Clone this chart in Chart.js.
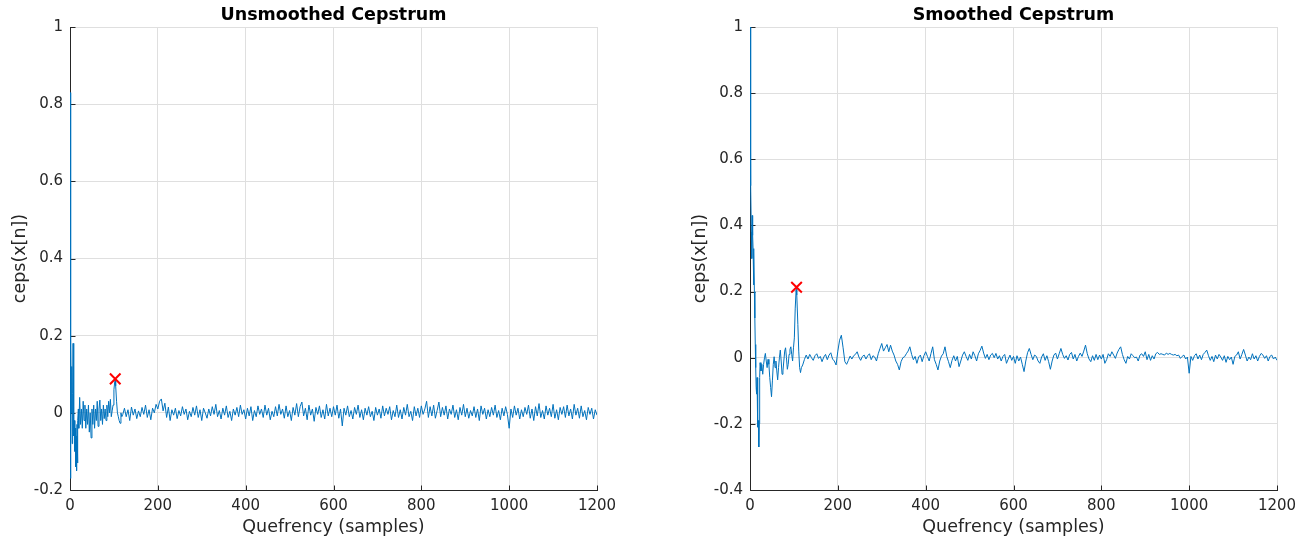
<!DOCTYPE html>
<html>
<head>
<meta charset="utf-8">
<script src="https://cdn.jsdelivr.net/npm/chart.js@4/dist/chart.umd.min.js"></script>
<style>
  body { margin: 0; background: #fff; }
  #leftBox { position: absolute; left: 0; top: 0; }
  #rightBox { position: absolute; left: 680px; top: 0; }
</style>
</head>
<body>
<div id="leftBox"><canvas id="unsmoothedChart" width="680" height="540"></canvas></div>
<div id="rightBox"><canvas id="smoothedChart" width="627" height="540"></canvas></div>
<script>
// quefrency ticks
var xTicks = [0, 200, 400, 600, 800, 1000, 1200];
var tailStart = 120, tailStep = 4;

// unsmoothed cepstrum: detailed start, then every 4th sample
var unsHeadN = [0, 1, 2, 3, 4, 5, 6, 7, 8, 9, 10, 11, 12, 13, 14, 15, 16, 17, 18, 19,
  20, 22, 24, 26, 28, 30, 32, 34, 36, 38, 40, 42, 44, 46, 48, 50, 52, 54, 56, 58,
  60, 62, 64, 66, 68, 70, 72, 74, 76, 78, 80, 82, 84, 86, 88, 90, 92, 94, 96, 98,
  100, 102, 103, 104, 106, 108, 110, 112, 114, 116, 118];
var unsHeadV = [0.83, -0.17, 0.19, 0.0, 0.12, -0.08, 0.05, 0.18, 0.1, -0.06, -0.02, -0.1, -0.04, -0.14, -0.06, -0.15, -0.03, -0.13, -0.02, 0.01,
  -0.04, 0.04, -0.03, 0.01, -0.04, 0.03, -0.02, 0.02, -0.04, 0.01, -0.03, 0.02, -0.05, 0.0, -0.065, 0.01, -0.03, 0.02, -0.04, 0.01,
  -0.02, 0.03, -0.035, 0.01, 0.033, -0.02, 0.01, -0.03, 0.02, -0.015, 0.01, -0.02, 0.02, -0.01, 0.03, 0.0, 0.035, -0.01, 0.005, 0.02,
  0.06, 0.082, 0.088, 0.07, 0.03, 0.0, -0.01, -0.02, -0.027, 0.0, -0.01];
var unsTail = [
  -0.005, 0.012, -0.01, 0.008, -0.02, 0.015, -0.006, 0.01, -0.015, 0.005,
  -0.01, 0.014, -0.004, 0.02, -0.012, 0.008, -0.018, 0.012, 0.0, 0.022,
  0.01, 0.03, 0.036, 0.005, 0.025, -0.012, 0.015, -0.02, 0.008, -0.006,
  0.012, -0.015, 0.006, -0.008, 0.016, -0.004, 0.01, -0.018, 0.004, -0.01,
  0.014, -0.006, 0.018, -0.012, 0.008, -0.02, 0.012, 0.0, -0.014, 0.01,
  -0.008, 0.016, -0.004, 0.022, -0.01, 0.006, -0.016, 0.012, -0.006, 0.018,
  -0.012, 0.004, -0.02, 0.01, -0.006, 0.014, -0.01, 0.02, -0.004, 0.008,
  -0.016, 0.012, -0.008, 0.016, -0.02, 0.006, -0.01, 0.018, -0.004, 0.01,
  -0.012, 0.02, -0.006, 0.012, -0.018, 0.004, -0.01, 0.016, -0.008, 0.022,
  -0.004, 0.01, -0.014, 0.018, -0.01, 0.006, -0.02, 0.014, -0.006, 0.024,
  -0.01, 0.016, 0.028, -0.008, 0.012, -0.018, 0.02, -0.006, 0.01, -0.022,
  0.014, -0.004, 0.018, -0.012, 0.008, -0.016, 0.022, -0.008, 0.012, -0.01,
  0.016, -0.006, 0.02, -0.014, 0.01, -0.034, 0.012, -0.006, 0.018, -0.01,
  0.006, -0.016, 0.014, -0.004, 0.02, -0.012, 0.008, -0.018, 0.012, -0.006,
  0.016, -0.01, 0.004, -0.02, 0.014, -0.006, 0.01, -0.014, 0.018, -0.008,
  0.012, -0.004, 0.016, -0.018, 0.006, -0.01, 0.02, -0.012, 0.008, -0.016,
  0.014, -0.006, 0.022, -0.01, 0.004, -0.02, 0.016, -0.008, 0.012, -0.012,
  0.018, -0.004, 0.01, 0.03, -0.012, 0.016, -0.008, 0.02, -0.014, 0.006,
  0.028, -0.01, 0.014, -0.006, 0.018, -0.016, 0.01, -0.004, 0.02, -0.012,
  0.008, -0.018, 0.014, -0.006, 0.022, -0.01, 0.012, -0.014, 0.006, -0.008,
  0.016, -0.012, 0.01, -0.02, 0.018, -0.004, 0.012, -0.016, 0.008, -0.01,
  0.014, -0.006, 0.02, -0.012, 0.006, -0.018, 0.012, -0.008, 0.016, -0.004,
  -0.04, 0.01, -0.012, 0.018, -0.006, 0.012, -0.016, 0.008, -0.01, 0.014,
  -0.004, 0.02, -0.014, 0.01, -0.02, 0.016, -0.008, 0.024, -0.012, 0.006,
  -0.016, 0.018, -0.006, 0.012, -0.01, 0.022, -0.014, 0.008, -0.018, 0.014,
  -0.004, 0.016, -0.012, 0.02, -0.008, 0.01, -0.016, 0.022, -0.006, 0.012,
  -0.014, 0.018, -0.01, 0.006, -0.018, 0.014, -0.004, 0.012, -0.016, 0.008,
  -0.006];
var unsPeak = [103, 0.088];

// smoothed cepstrum
var smHeadN = [0, 1, 2, 3, 4, 5, 6, 7, 8, 9, 10, 11, 12, 13, 14, 15, 16, 17, 18, 19,
  20, 21, 22, 23, 25, 27, 29, 31, 33, 35, 37, 39, 41, 43, 45, 47, 49, 51, 53, 55,
  57, 59, 61, 63, 65, 67, 69, 71, 73, 75, 77, 79, 81, 83, 85, 87, 89, 91, 93, 95,
  97, 99, 101, 103, 105, 106, 107, 109, 111, 113, 115, 117];
var smHeadV = [1.0, 0.72, 0.52, 0.38, 0.3, 0.43, 0.37, 0.33, 0.22, 0.32, 0.2, 0.12, 0.04, -0.03, -0.09, -0.11, -0.06, -0.2, -0.21, -0.19,
  -0.27, -0.2, -0.06, -0.015, -0.04, -0.02, -0.05, -0.02, 0.0, 0.013, -0.01, -0.03, -0.005, -0.02, -0.06, -0.09, -0.118, -0.07, -0.02, 0.003,
  -0.03, -0.01, -0.04, -0.067, -0.03, 0.0, 0.023, -0.01, -0.05, -0.04, -0.01, 0.02, 0.03, 0.0, -0.035, -0.02, 0.01, 0.025, 0.033, 0.01,
  -0.01, 0.03, 0.06, 0.15, 0.205, 0.213, 0.19, 0.1, 0.02, -0.03, -0.045, -0.03];
var smTail = [
  -0.022, -0.005, 0.008, -0.004, 0.01, 0.0, -0.008, 0.006, 0.012, -0.002,
  0.004, -0.012, 0.002, 0.01, -0.006, 0.008, 0.015, -0.004, -0.01, -0.022,
  0.02, 0.053, 0.068, 0.03, -0.012, -0.02, -0.008, 0.005, -0.004, 0.006,
  0.01, 0.018, 0.002, -0.008, 0.004, 0.008, -0.004, 0.006, 0.012, -0.006,
  0.006, 0.002, -0.01, 0.012, 0.028, 0.043, 0.02, 0.03, 0.04, 0.018,
  0.038, 0.02, 0.008, -0.01, -0.02, -0.037, -0.012, 0.0, 0.003, 0.012,
  0.02, 0.033, 0.01, -0.006, 0.004, -0.017, 0.002, 0.008, -0.012, 0.006,
  0.018, 0.004, -0.01, 0.012, 0.033, -0.006, -0.02, -0.037, -0.01, 0.005,
  0.012, 0.033, 0.004, -0.012, -0.03, -0.008, 0.006, -0.01, 0.004, -0.027,
  -0.01, 0.008, 0.018, 0.004, -0.008, 0.01, -0.004, 0.018, 0.006, -0.01,
  0.012, 0.022, 0.035, 0.014, -0.002, 0.01, -0.006, 0.008, 0.013, 0.0,
  0.013, -0.004, 0.006, -0.01, 0.004, 0.01, -0.017, -0.004, 0.008, -0.008,
  0.004, -0.017, 0.006, -0.01, 0.002, -0.02, -0.042, -0.01, 0.015, 0.028,
  0.01, -0.006, 0.008, 0.004, -0.01, -0.017, 0.002, 0.012, -0.008, 0.006,
  -0.012, -0.035, -0.01, 0.008, 0.014, -0.004, 0.012, 0.028, 0.01, -0.002,
  0.006, -0.007, 0.01, 0.016, -0.004, 0.01, -0.01, 0.004, 0.014, 0.004,
  0.02, 0.038, 0.012, -0.004, -0.012, 0.006, -0.008, 0.01, -0.006, 0.008,
  -0.004, 0.01, -0.017, -0.006, 0.012, 0.004, 0.018, 0.008, -0.002, 0.014,
  0.025, 0.033, 0.01, -0.006, -0.017, 0.004, -0.004, 0.012, 0.006, 0.0,
  0.002, -0.01, 0.008, 0.012, 0.004, 0.018, -0.006, 0.01, -0.008, 0.006,
  -0.004, 0.012, 0.016, 0.01, 0.012, 0.01, 0.008, 0.014, 0.01, 0.013,
  0.01, 0.008, 0.01, 0.006, 0.008, -0.002, 0.004, 0.008, -0.004, 0.002,
  -0.047, 0.004, -0.008, 0.006, 0.012, -0.004, 0.008, -0.006, 0.01, 0.016,
  0.023, 0.006, -0.008, 0.004, -0.012, 0.008, -0.004, 0.01, 0.002, -0.008,
  0.006, -0.014, 0.004, -0.006, 0.002, -0.02, 0.004, 0.008, 0.018, -0.004,
  0.01, 0.025, 0.008, -0.01, 0.002, -0.006, 0.012, -0.004, 0.006, -0.01,
  0.004, 0.013, 0.008, -0.002, 0.006, -0.01, 0.004, 0.008, -0.004, 0.002,
  -0.008];
var smPeak = [106, 0.213];

function toPoints(headN, headV, tail) {
  var pts = headN.map(function (n, i) { return {x: n, y: headV[i]}; });
  tail.forEach(function (v, i) { pts.push({x: tailStart + i * tailStep, y: v}); });
  return pts;
}

var axisColor = '#262626';
var gridColor = '#dfdfdf';
var fontFam = '"DejaVu Sans", sans-serif';

// MATLAB style axes: dark left/bottom line with short inward ticks
var matlabAxes = {
  id: 'matlabAxes',
  beforeDatasetsDraw: function (chart) {
    var ctx = chart.ctx, a = chart.chartArea, x = chart.scales.x, y = chart.scales.y;
    var left = Math.round(a.left) + 0.5, bottom = Math.round(a.bottom) + 0.5;
    ctx.save();
    ctx.strokeStyle = axisColor;
    ctx.lineWidth = 1;
    ctx.beginPath();
    ctx.moveTo(left, Math.round(a.top));
    ctx.lineTo(left, bottom);
    ctx.lineTo(Math.round(a.right) + 1, bottom);
    x.ticks.forEach(function (t) {
      var px = Math.round(x.getPixelForValue(t.value)) + 0.5;
      ctx.moveTo(px, bottom);
      ctx.lineTo(px, bottom - 5);
    });
    y.ticks.forEach(function (t) {
      var py = Math.round(y.getPixelForValue(t.value)) + 0.5;
      ctx.moveTo(left, py);
      ctx.lineTo(left + 5, py);
    });
    ctx.stroke();
    ctx.restore();
  }
};

function makeChart(id, title, pts, peak, yMin, padRight) {
  return new Chart(id, {
    type: 'line',
    data: {
      datasets: [{
        data: pts,
        borderColor: '#0072BD',
        borderWidth: 1,
        pointRadius: 0,
        tension: 0,
        order: 2
      }, {
        type: 'scatter',
        data: [{x: peak[0], y: peak[1]}],
        pointStyle: 'crossRot',
        pointRadius: 7.5,
        borderColor: '#ff0000',
        borderWidth: 2,
        order: 1
      }]
    },
    options: {
      responsive: false,
      animation: false,
      layout: { padding: { left: 0, right: padRight, top: 0, bottom: 0 } },
      plugins: {
        legend: { display: false },
        tooltip: { enabled: false },
        title: {
          display: true,
          text: title,
          fullSize: false,
          color: '#000',
          font: { family: fontFam, size: 17.5, weight: 'bold' },
          padding: { top: 5, bottom: 1 }
        }
      },
      scales: {
        x: {
          type: 'linear',
          min: 0,
          max: 1200,
          afterFit: function (s) { s.height = 50; },
          afterBuildTicks: function (s) { s.ticks = xTicks.map(function (v) { return {value: v}; }); },
          ticks: {
            color: axisColor,
            font: { family: fontFam, size: 15 },
            padding: 7,
            maxRotation: 0,
            callback: function (v) { return String(v); }
          },
          grid: { color: gridColor, drawTicks: false },
          border: { display: false },
          title: { display: true, text: 'Quefrency (samples)', color: axisColor,
                   font: { family: fontFam, size: 17.5 }, padding: { top: 0, bottom: 2 } }
        },
        y: {
          min: yMin,
          max: 1,
          afterFit: function (s) { s.width = 70; },
          ticks: {
            stepSize: 0.2,
            color: axisColor,
            font: { family: fontFam, size: 15 },
            padding: 7,
            callback: function (v) { return String(Math.round(v * 10) / 10); }
          },
          grid: { color: gridColor, drawTicks: false },
          border: { display: false },
          title: { display: true, text: 'ceps(x[n])', color: axisColor,
                   font: { family: fontFam, size: 17.5 }, padding: { top: 9.5, bottom: 0 } }
        }
      }
    },
    plugins: [matlabAxes]
  });
}

makeChart('unsmoothedChart', 'Unsmoothed Cepstrum', toPoints(unsHeadN, unsHeadV, unsTail), unsPeak, -0.2, 83);
makeChart('smoothedChart', 'Smoothed Cepstrum', toPoints(smHeadN, smHeadV, smTail), smPeak, -0.4, 30);
</script>
</body>
</html>
